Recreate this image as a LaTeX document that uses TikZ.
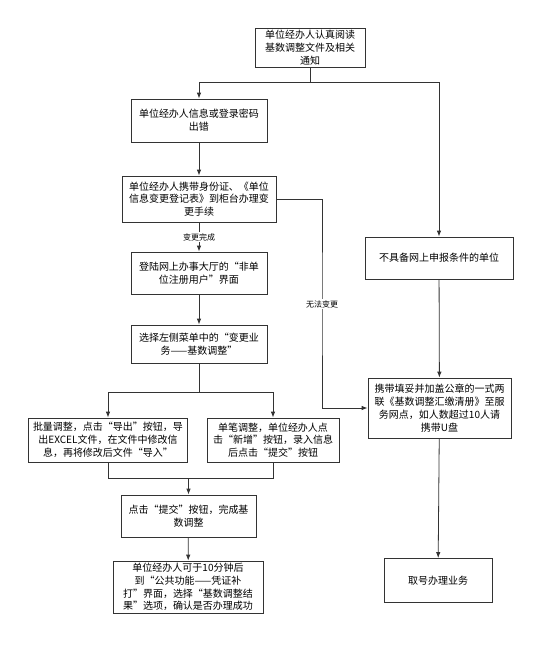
\documentclass[tikz,border=0pt]{standalone}
\usepackage{fontspec}
\setmainfont{Noto Sans CJK SC}
\usetikzlibrary{arrows.meta,positioning}

\begin{document}
\begin{tikzpicture}[
						x=1pt,
						y=-1pt,
						->,
						>={Latex[length=6pt,width=4.5pt]},
						line width=0.8pt,
						draw=black!80,
						stepbox/.style={
							draw=black!80,
							rectangle,
							inner sep=0pt,
							align=center,
							font=\fontsize{10}{12.8}\selectfont
						},
						lbl/.style={
							fill=white,
							inner sep=1pt,
							font=\fontsize{8}{9}\selectfont
						}
					]
					\fill[white] (0,0) rectangle (550,649);
					\useasboundingbox (0,0) rectangle (550,649);
					\node[stepbox, minimum width=110, minimum height=39] (read) at (310,47.5) {单位经办人认真阅读\\基数调整文件及相关\\通知};
					\node[stepbox, minimum width=136, minimum height=43] (wrong) at (199,120.5) {单位经办人信息或登录密码\\出错};
					\node[stepbox, minimum width=154, minimum height=46] (counter) at (199,199) {单位经办人携带身份证、《单位\\信息变更登记表》到柜台办理变\\更手续};
					\node[stepbox, minimum width=136, minimum height=42] (login) at (199,273) {登陆网上办事大厅的“非单\\位注册用户”界面};
					\node[stepbox, minimum width=136, minimum height=38] (menu) at (199,344) {选择左侧菜单中的“变更业\\务——基数调整”};
					\node[stepbox, minimum width=159, minimum height=44] (batch) at (108,440) {批量调整，点击“导出”按钮，导\\出EXCEL文件，在文件中修改信\\息，再将修改后文件“导入”};
					\node[stepbox, minimum width=132, minimum height=44] (single) at (273,440) {单笔调整，单位经办人点\\击“新增”按钮，录入信息\\后点击“提交”按钮};
					\node[stepbox, minimum width=135, minimum height=42] (submit) at (188.5,516) {点击“提交”按钮，完成基\\数调整};
					\node[stepbox, minimum width=150, minimum height=52] (check) at (188,587) {单位经办人可于10分钟后\\到“公共功能——凭证补\\打”界面，选择“基数调整结\\果”选项，确认是否办理成功};
					\node[stepbox, minimum width=148, minimum height=42] (nocond) at (439,258) {不具备网上申报条件的单位};
					\node[stepbox, minimum width=143, minimum height=60] (fill) at (439.5,408) {携带填妥并加盖公章的一式两\\联《基数调整汇缴清册》至服\\务网点，如人数超过10人请\\携带U盘};
					\node[stepbox, minimum width=108, minimum height=44] (take) at (438,580.5) {取号办理业务};
					\coordinate (topsplit) at (310,82);
					\coordinate (nochange) at (322,304);
					\coordinate (menusplit) at (199,392);
					\coordinate (join) at (188.5,478);
					\draw[-] (read.south) -- (topsplit);
					\draw (topsplit) -| (wrong.north);
					\draw (topsplit) -| (nocond.north);
					\draw (wrong) -- (counter);
					\draw (counter) -- (login) node[lbl, midway] {变更完成};
					\draw (counter.east) -| (nochange) node[lbl] {无法变更} |- (fill.west);
					\draw (login) -- (menu);
					\draw[-] (menu.south) -- (menusplit);
					\draw (menusplit) -| (batch.north);
					\draw (menusplit) -| (single.north);
					\draw[-] (batch.south) |- (join);
					\draw[-] (single.south) |- (join);
					\draw (join) -- (submit.north);
					\draw (submit) -- (check);
					\draw (nocond) -- (fill);
					\draw (fill) -- (take);
				\end{tikzpicture}
\end{document}
